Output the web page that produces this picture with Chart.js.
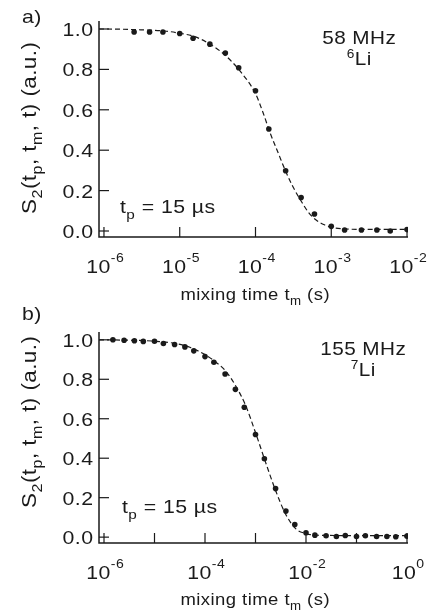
<!DOCTYPE html>
<html>
<head>
<meta charset="utf-8">
<script src="https://cdn.jsdelivr.net/npm/chart.js@4.4.1/dist/chart.umd.min.js"></script>
<style>
  body { margin: 0; background: #fff; }
  .wrap { position: relative; width: 430px; height: 615px; }
  #chartA { position: absolute; left: 0; top: 0; }
  #chartB { position: absolute; left: 0; top: 300px; }
</style>
</head>
<body>
<div class="wrap">
  <canvas id="chartA" width="430" height="310"></canvas>
  <canvas id="chartB" width="430" height="315"></canvas>
</div>
<script>
// ── Data: panel a) 58 MHz 6Li ─────────────────────────────────
const TIMES_A = [2.5e-6, 4e-6, 6e-6, 1e-5, 1.5e-5, 2.5e-5, 4e-5, 6e-5, 1e-4, 1.5e-4,
  2.5e-4, 4e-4, 6e-4, 1e-3, 1.5e-3, 2.5e-3, 4e-3, 6e-3, 1e-2];
const S2_A = [0.985, 0.985, 0.985, 0.978, 0.954, 0.925, 0.881, 0.808, 0.694, 0.505,
  0.298, 0.166, 0.084, 0.023, 0.005, 0.005, 0.005, 0.0, 0.007];
const FIT_T_A = [8.6e-7, 1e-6, 2.5e-6, 6.3e-6, 1e-5, 1.58e-5, 2.51e-5, 3.98e-5, 6.31e-5, 1e-4,
  1.26e-4, 1.58e-4, 2e-4, 2.51e-4, 3.16e-4, 3.98e-4, 5.01e-4, 6.31e-4, 7.94e-4, 1e-3,
  1.58e-3, 2.51e-3, 1e-2];
const FIT_A = [1.0, 1.0, 0.997, 0.99, 0.979, 0.962, 0.925, 0.87, 0.79, 0.68,
  0.585, 0.48, 0.385, 0.294, 0.215, 0.15, 0.092, 0.054, 0.032, 0.018,
  0.01, 0.008, 0.008];

// ── Data: panel b) 155 MHz 7Li ────────────────────────────────
const TIMES_B = [1.5e-6, 2.5e-6, 4e-6, 6e-6, 1e-5, 1.5e-5, 2.5e-5, 4e-5, 6e-5, 1e-4,
  1.5e-4, 2.5e-4, 4e-4, 6e-4, 1e-3, 1.5e-3, 2.5e-3, 4e-3, 6e-3, 1e-2,
  1.5e-2, 2.5e-2, 4e-2, 6e-2, 0.1, 0.15, 0.25, 0.4, 0.6, 1];
const S2_B = [1.0, 0.998, 0.995, 0.992, 0.993, 0.981, 0.976, 0.964, 0.944, 0.915,
  0.886, 0.827, 0.749, 0.658, 0.520, 0.397, 0.246, 0.132, 0.064, 0.022,
  0.010, 0.007, 0.003, 0.008, 0.003, 0.007, 0.003, 0.003, 0.002, 0.005];
const FIT_T_B = [7.96e-7, 3.16e-6, 1e-5, 2.51e-5, 5.01e-5, 1e-4, 1.58e-4, 2.51e-4, 3.98e-4, 6.31e-4,
  1e-3, 1.58e-3, 2.51e-3, 3.98e-3, 6.31e-3, 1e-2, 1.58e-2, 0.1, 1.05];
const FIT_B = [1.0, 0.998, 0.993, 0.982, 0.962, 0.925, 0.89, 0.845, 0.77, 0.67,
  0.53, 0.38, 0.235, 0.115, 0.042, 0.018, 0.01, 0.008, 0.008];

// ── Ticks ────────────────────────────────────────────────────
const Y_TICKS = [0, 0.2, 0.4, 0.6, 0.8, 1.0];
const X_TICKS_A = [1e-6, 1e-5, 1e-4, 1e-3, 1e-2];
const X_EXP_A = ['-6', '-5', '-4', '-3', '-2'];
const X_TICKS_B = [1e-6, 1e-5, 1e-4, 1e-3, 1e-2, 1e-1, 1];
const X_EXP_B = ['-6', '', '-4', '', '-2', '', '0'];

const INK = '#1a1a1a';
const FONT = '"Liberation Sans", Arial, sans-serif';
const SX = 1.12; // the original lettering is a little wide
const LS = 0.4;

// draw runs of text char by char: [text, scale, dyEm]
function drawRuns(ctx, runs, x, y, size, align = 'left', rot = 0) {
  const parts = [];
  let total = 0;
  runs.forEach(([t, sc = 1, dy = 0]) => {
    const sz = size * sc;
    ctx.font = `${sz}px ${FONT}`;
    for (const ch of t) {
      const w = ctx.measureText(ch).width;
      parts.push({ ch, sz, dy: dy * size, x: total });
      total += w + LS;
    }
  });
  total -= LS;
  ctx.save();
  ctx.translate(x, y);
  ctx.rotate(rot);
  ctx.scale(SX, 1);
  const off = align === 'center' ? -total / 2 : align === 'right' ? -total : 0;
  ctx.fillStyle = INK;
  ctx.textBaseline = 'alphabetic';
  ctx.textAlign = 'left';
  parts.forEach(p => {
    ctx.font = `${p.sz}px ${FONT}`;
    ctx.fillText(p.ch, off + p.x, p.dy);
  });
  ctx.restore();
}

const SUB = 0.72, SUBDY = 0.3;

// ── Axes, ticks and lettering plugin ─────────────────────────
const sciAxes = {
  id: 'sciAxes',
  beforeDatasetsDraw(chart, args, o) {
    const { ctx, chartArea: a, scales: { x, y } } = chart;
    ctx.save();
    ctx.strokeStyle = INK;
    ctx.lineWidth = 1.5;
    ctx.beginPath();
    ctx.moveTo(a.left, a.top);
    ctx.lineTo(a.left, a.bottom);
    ctx.lineTo(a.right, a.bottom);
    ctx.stroke();

    ctx.lineWidth = 1.2;
    Y_TICKS.forEach(v => {
      const py = y.getPixelForValue(v);
      ctx.beginPath();
      ctx.moveTo(a.left, py);
      ctx.lineTo(a.left + 10, py);
      ctx.stroke();
      drawRuns(ctx, [[v.toFixed(1)]], a.left - 6, py + 7, 19, 'right');
    });
    o.xTicks.forEach((v, i) => {
      const px = x.getPixelForValue(v);
      ctx.beginPath();
      ctx.moveTo(px, a.bottom);
      ctx.lineTo(px, a.bottom - 10);
      ctx.stroke();
      if (o.xExp[i]) {
        drawRuns(ctx, [['10'], [o.xExp[i], 0.66, -0.6]], px + 1, a.bottom + 36, 19, 'center');
      }
    });
    ctx.restore();

    // panel lettering
    drawRuns(ctx, [[o.tag]], 22, o.tagY, 19);
    drawRuns(ctx, [[o.freq]], o.freqX, o.freqY, 18.5, 'center');
    drawRuns(ctx, [[o.iso, 0.66, -0.38], ['Li']], o.freqX, o.freqY + 21, 18.5, 'center');
    drawRuns(ctx, [['t'], ['p', SUB, SUBDY], [' = 15 µs']], o.tpX, o.tpY, 19);
    drawRuns(ctx, [['mixing time t'], ['m', SUB, SUBDY], [' (s)']], 255, o.xTitleY, 16.5, 'center');
    drawRuns(ctx, [['S'], ['2', SUB, SUBDY], ['(t'], ['p', SUB, SUBDY], [', t'], ['m', SUB, SUBDY],
      [', t) (a.u.)']], 36, o.yTitleY, 20, 'center', -Math.PI / 2);
  },
};

function makeChart(id, times, vals, fitT, fit, xMin, xMax, pad, panel) {
  return new Chart(document.getElementById(id), {
    type: 'scatter',
    data: {
      datasets: [
        {
          data: fitT.map((t, i) => ({ x: t, y: fit[i] })),
          showLine: true,
          borderColor: INK,
          borderWidth: 1.2,
          borderDash: [5, 3],
          pointRadius: 0,
          cubicInterpolationMode: 'monotone',
          fill: false,
        },
        {
          data: times.map((t, i) => ({ x: t, y: vals[i] })),
          showLine: false,
          pointRadius: 2.8,
          pointBackgroundColor: INK,
          pointBorderWidth: 0,
        },
      ],
    },
    options: {
      responsive: false,
      animation: false,
      layout: { padding: pad },
      plugins: { legend: { display: false }, tooltip: { enabled: false }, sciAxes: panel },
      scales: {
        x: { type: 'logarithmic', min: xMin, max: xMax, display: false },
        y: { type: 'linear', min: -0.0297, max: 1.0396, display: false },
      },
    },
    plugins: [sciAxes],
  });
}

// ── Panel a) ─────────────────────────────────────────────────
makeChart('chartA', TIMES_A, S2_A, FIT_T_A, FIT_A, 8.6e-7, 1.03e-2,
  { left: 99, right: 22, top: 21, bottom: 73 },
  { tag: 'a)', tagY: 23, freq: '58 MHz', iso: '6', freqX: 359, freqY: 44,
    tpX: 120, tpY: 213, xTitleY: 300, yTitleY: 128, xTicks: X_TICKS_A, xExp: X_EXP_A });

// ── Panel b) ─────────────────────────────────────────────────
makeChart('chartB', TIMES_B, S2_B, FIT_T_B, FIT_B, 7.96e-7, 1.047,
  { left: 99, right: 22, top: 32, bottom: 72 },
  { tag: 'b)', tagY: 20, freq: '155 MHz', iso: '7', freqX: 363, freqY: 55,
    tpX: 122, tpY: 213, xTitleY: 305, yTitleY: 122, xTicks: X_TICKS_B, xExp: X_EXP_B });
</script>
</body>
</html>
